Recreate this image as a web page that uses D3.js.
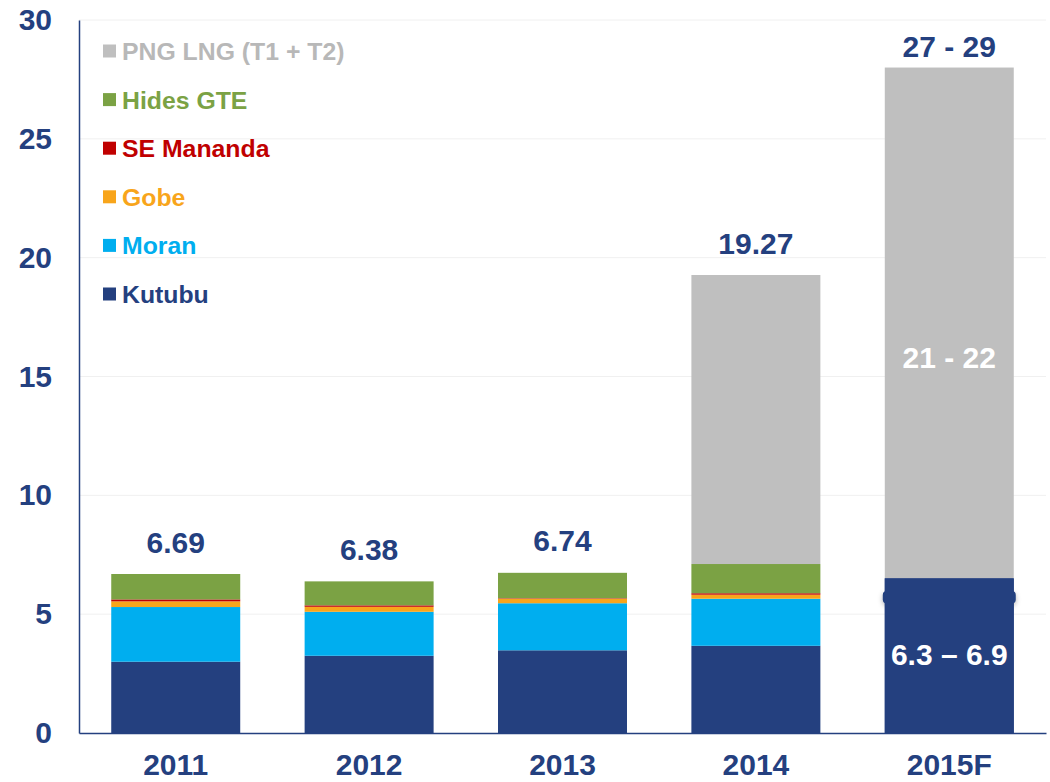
<!DOCTYPE html>
<html>
<head>
  <meta charset="utf-8">
  <title>Production by field</title>
  <script src="https://d3js.org/d3.v7.min.js"></script>
  <style>
    body { margin: 0; background: #fff; }
    svg { display: block; font-family: "Liberation Sans", Arial, sans-serif; font-weight: bold; }
  </style>
</head>
<body>
  <svg width="1050" height="782"></svg>
  <script>
    // data
    var years = ["2011", "2012", "2013", "2014", "2015F"];
    var kutubu = [3.00, 3.25, 3.48, 3.67, 6.51];
    var moran = [2.30, 1.85, 1.98, 1.98, 0];
    var gobe = [0.24, 0.21, 0.19, 0.17, 0];
    var seMananda = [0.08, 0.06, 0.02, 0.06, 0];
    var hidesGte = [1.07, 1.01, 1.07, 1.23, 0];
    var pngLng = [0, 0, 0, 12.16, 21.49];
    var totalLabels = ["6.69", "6.38", "6.74", "19.27", "27 - 29"];
    var yTicks = [0, 5, 10, 15, 20, 25, 30];
    // labels written inside the 2015F bar, with the value they sit at
    var innerLabels = [
      { year: "2015F", text: "21 - 22", at: 15.8 },
      { year: "2015F", text: "6.3 – 6.9", at: 3.3 }
    ];

    var series = [
      { name: "Kutubu", values: kutubu, color: "#24407F", text: "#24407F" },
      { name: "Moran", values: moran, color: "#00AEEF", text: "#00AEEF" },
      { name: "Gobe", values: gobe, color: "#F8A51B", text: "#F8A51B" },
      { name: "SE Mananda", values: seMananda, color: "#C00000", text: "#C00000" },
      { name: "Hides GTE", values: hidesGte, color: "#7BA244", text: "#7BA244" },
      { name: "PNG LNG (T1 + T2)", values: pngLng, color: "#BFBFBF", text: "#B8B8B8" }
    ];
    var navy = "#24407F";
    var bigFont = 30;

    var rows = years.map(function (yr, i) {
      var r = { year: yr };
      series.forEach(function (s) { r[s.name] = s.values[i]; });
      return r;
    });

    var svg = d3.select("svg");
    var x = d3.scaleBand().domain(years).range([79, 1046]).paddingInner(0.333).paddingOuter(0.1667);
    var y = d3.scaleLinear().domain([0, 30]).range([733, 20]);

    // faint gridlines
    svg.append("g").selectAll("line")
      .data(yTicks.filter(function (d) { return d > 0; }))
      .enter().append("line")
      .attr("x1", 79).attr("x2", 1046)
      .attr("y1", function (d) { return y(d); })
      .attr("y2", function (d) { return y(d); })
      .attr("stroke", "#F0F0F0");

    // stacked bars
    var stack = d3.stack().keys(series.map(function (s) { return s.name; }));
    var layers = stack(rows);
    svg.append("g").selectAll("g")
      .data(layers)
      .enter().append("g")
      .attr("fill", function (d, i) { return series[i].color; })
      .selectAll("rect")
      .data(function (d) { return d; })
      .enter().append("rect")
      .attr("x", function (d) { return x(d.data.year); })
      .attr("width", x.bandwidth())
      .attr("y", function (d) { return y(d[1]); })
      .attr("height", function (d) { return y(d[0]) - y(d[1]); });

    // small rounded block pasted over the 2015F bar
    var defs = svg.append("defs");
    var f = defs.append("filter").attr("id", "shadow").attr("x", "-10%").attr("y", "-50%").attr("width", "120%").attr("height", "250%");
    f.append("feDropShadow").attr("dx", 0).attr("dy", 2).attr("stdDeviation", 2.5).attr("flood-color", "#000").attr("flood-opacity", 0.3);
    svg.append("rect")
      .attr("x", x("2015F") - 2)
      .attr("width", x.bandwidth() + 4)
      .attr("y", y(5.97))
      .attr("height", y(5.45) - y(5.97))
      .attr("rx", 4)
      .attr("fill", navy)
      .attr("filter", "url(#shadow)");
    svg.append("rect")
      .attr("x", x("2015F"))
      .attr("width", x.bandwidth())
      .attr("y", y(kutubu[4]))
      .attr("height", y(0) - y(kutubu[4]))
      .attr("fill", navy);

    // total labels above bars
    var totals = rows.map(function (r) {
      return d3.sum(series, function (s) { return r[s.name]; });
    });
    svg.append("g").selectAll("text")
      .data(years)
      .enter().append("text")
      .attr("x", function (d) { return x(d) + x.bandwidth() / 2; })
      .attr("y", function (d, i) { return Math.max(y(totals[i]) - 32, 46) + 10.5; })
      .attr("text-anchor", "middle")
      .attr("font-size", bigFont)
      .attr("fill", navy)
      .text(function (d, i) { return totalLabels[i]; });

    // inner labels
    svg.append("g").selectAll("text")
      .data(innerLabels)
      .enter().append("text")
      .attr("x", function (d) { return x(d.year) + x.bandwidth() / 2; })
      .attr("y", function (d) { return y(d.at) + 10.5; })
      .attr("text-anchor", "middle")
      .attr("font-size", bigFont)
      .attr("fill", "#fff")
      .text(function (d) { return d.text; });

    // axes
    var yAxis = svg.append("g")
      .attr("transform", "translate(79,0)")
      .call(d3.axisLeft(y).tickValues(yTicks).tickSize(0).tickPadding(27));
    yAxis.select(".domain").attr("stroke", navy).attr("stroke-width", 1.5);
    yAxis.selectAll("text").attr("font-size", bigFont).attr("fill", navy)
      .attr("font-family", "Liberation Sans, Arial, sans-serif").attr("font-weight", "bold");

    var xAxis = svg.append("g")
      .attr("transform", "translate(0,733)")
      .call(d3.axisBottom(x).tickSize(0));
    xAxis.select(".domain").attr("stroke", navy).attr("stroke-width", 1.5);
    xAxis.selectAll("text").attr("y", 31.5).attr("dy", "0.36em")
      .attr("font-size", bigFont).attr("fill", navy)
      .attr("font-family", "Liberation Sans, Arial, sans-serif").attr("font-weight", "bold");

    // legend, top to bottom in reverse stack order
    var legendItems = series.slice().reverse();
    var legend = svg.append("g").selectAll("g")
      .data(legendItems)
      .enter().append("g")
      .attr("transform", function (d, i) { return "translate(103," + (51 + i * 48.6) + ")"; });
    legend.append("rect")
      .attr("x", 0).attr("y", -6.5)
      .attr("width", 13).attr("height", 13)
      .attr("fill", function (d) { return d.color; });
    legend.append("text")
      .attr("x", 19).attr("y", 9)
      .attr("font-size", 24.8)
      .attr("fill", function (d) { return d.text; })
      .text(function (d) { return d.name; });
  </script>
</body>
</html>
